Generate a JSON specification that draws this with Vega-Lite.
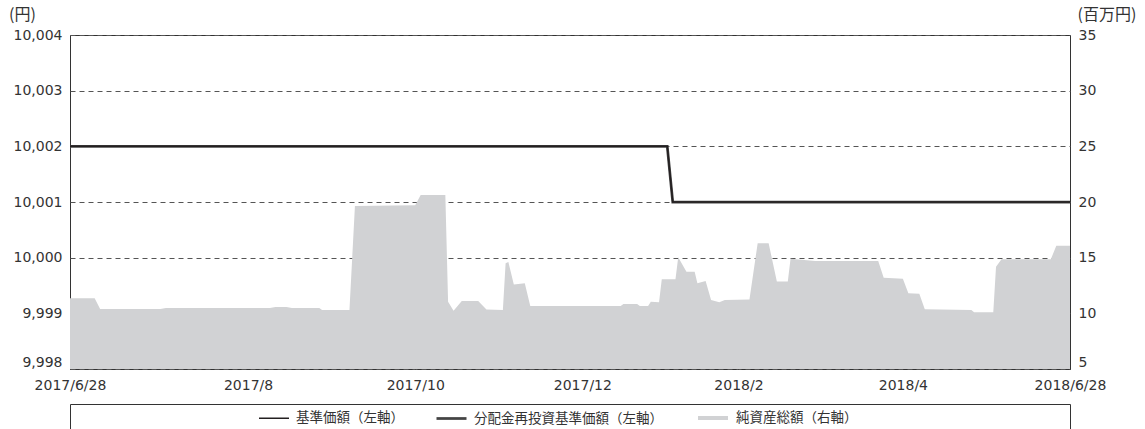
{
  "$schema": "https://vega.github.io/schema/vega-lite/v6.json",
  "padding": {"left": 8, "top": 6, "right": 5, "bottom": 0},
  "width": 1000,
  "height": 334,
  "config": {
    "view": {"stroke": "#333", "strokeWidth": 1},
    "font": "Noto Sans CJK JP",
    "axis": {"labelFont": "DejaVu Sans", "labelFontSize": 14, "labelColor": "#333", "titleFont": "Noto Sans CJK JP", "titleFontSize": 16, "titleFontWeight": "normal", "titleColor": "#333"},
    "legend": {"orient": "none", "direction": "horizontal", "legendX": 188, "legendY": 366, "symbolType": "stroke", "symbolSize": 900, "labelFont": "Noto Sans CJK JP", "labelFontSize": 13.5, "labelColor": "#333", "labelLimit": 400, "columnPadding": 27, "labelOffset": 6}
  },
  "datasets": {
    "nav": [
      {"date": "2017-06-28", "nav": 11.35},
      {"date": "2017-07-07", "nav": 11.35},
      {"date": "2017-07-09", "nav": 10.39},
      {"date": "2017-07-31", "nav": 10.39},
      {"date": "2017-08-02", "nav": 10.48},
      {"date": "2017-09-09", "nav": 10.48},
      {"date": "2017-09-11", "nav": 10.57},
      {"date": "2017-09-15", "nav": 10.57},
      {"date": "2017-09-17", "nav": 10.48},
      {"date": "2017-09-27", "nav": 10.48},
      {"date": "2017-09-28", "nav": 10.30},
      {"date": "2017-10-08", "nav": 10.30},
      {"date": "2017-10-10", "nav": 19.64},
      {"date": "2017-11-01", "nav": 19.70},
      {"date": "2017-11-03", "nav": 20.63},
      {"date": "2017-11-12", "nav": 20.63},
      {"date": "2017-11-13", "nav": 11.05},
      {"date": "2017-11-15", "nav": 10.24},
      {"date": "2017-11-18", "nav": 11.10},
      {"date": "2017-11-24", "nav": 11.10},
      {"date": "2017-11-27", "nav": 10.35},
      {"date": "2017-12-03", "nav": 10.30},
      {"date": "2017-12-04", "nav": 14.50},
      {"date": "2017-12-05", "nav": 14.60},
      {"date": "2017-12-07", "nav": 12.60},
      {"date": "2017-12-11", "nav": 12.70},
      {"date": "2017-12-13", "nav": 10.66},
      {"date": "2018-01-15", "nav": 10.66},
      {"date": "2018-01-16", "nav": 10.84},
      {"date": "2018-01-21", "nav": 10.84},
      {"date": "2018-01-22", "nav": 10.66},
      {"date": "2018-01-25", "nav": 10.66},
      {"date": "2018-01-26", "nav": 11.05},
      {"date": "2018-01-29", "nav": 11.00},
      {"date": "2018-01-30", "nav": 13.06},
      {"date": "2018-02-04", "nav": 13.06},
      {"date": "2018-02-05", "nav": 15.03},
      {"date": "2018-02-08", "nav": 13.74},
      {"date": "2018-02-11", "nav": 13.74},
      {"date": "2018-02-12", "nav": 12.70},
      {"date": "2018-02-15", "nav": 12.90},
      {"date": "2018-02-17", "nav": 11.20},
      {"date": "2018-02-20", "nav": 11.00},
      {"date": "2018-02-22", "nav": 11.20},
      {"date": "2018-03-03", "nav": 11.25},
      {"date": "2018-03-06", "nav": 16.30},
      {"date": "2018-03-10", "nav": 16.30},
      {"date": "2018-03-13", "nav": 12.85},
      {"date": "2018-03-17", "nav": 12.85},
      {"date": "2018-03-18", "nav": 14.90},
      {"date": "2018-03-25", "nav": 14.75},
      {"date": "2018-03-27", "nav": 14.70},
      {"date": "2018-04-19", "nav": 14.70},
      {"date": "2018-04-21", "nav": 13.20},
      {"date": "2018-04-28", "nav": 13.10},
      {"date": "2018-04-30", "nav": 11.80},
      {"date": "2018-05-04", "nav": 11.75},
      {"date": "2018-05-06", "nav": 10.36},
      {"date": "2018-05-23", "nav": 10.30},
      {"date": "2018-05-24", "nav": 10.10},
      {"date": "2018-05-31", "nav": 10.09},
      {"date": "2018-06-01", "nav": 14.19},
      {"date": "2018-06-03", "nav": 14.85},
      {"date": "2018-06-21", "nav": 14.85},
      {"date": "2018-06-23", "nav": 16.07},
      {"date": "2018-06-28", "nav": 16.07}
    ],
    "reinv": [
      {"date": "2017-06-28", "series": "分配金再投資基準価額（左軸）", "price": 10002},
      {"date": "2018-02-01", "series": "分配金再投資基準価額（左軸）", "price": 10002},
      {"date": "2018-02-03", "series": "分配金再投資基準価額（左軸）", "price": 10001},
      {"date": "2018-06-28", "series": "分配金再投資基準価額（左軸）", "price": 10001}
    ],
    "base": [
      {"date": "2017-06-28", "series": "基準価額（左軸）", "price": 10002},
      {"date": "2018-02-01", "series": "基準価額（左軸）", "price": 10002},
      {"date": "2018-02-03", "series": "基準価額（左軸）", "price": 10001},
      {"date": "2018-06-28", "series": "基準価額（左軸）", "price": 10001}
    ]
  },
  "layer": [
    {
      "data": {"name": "nav"},
      "mark": {"type": "area", "color": "#d1d2d4"},
      "encoding": {
        "x": {
          "field": "date", "type": "temporal",
          "scale": {"type": "utc", "domain": [{"year": 2017, "month": 6, "date": 28, "utc": true}, {"year": 2018, "month": 6, "date": 28, "utc": true}]},
          "axis": {
            "orient": "bottom",
            "title": null,
            "values": [
              {"year": 2017, "month": 6, "date": 28, "utc": true},
              {"year": 2017, "month": 9, "date": 1, "utc": true},
              {"year": 2017, "month": 11, "date": 1, "utc": true},
              {"year": 2018, "month": 1, "date": 1, "utc": true},
              {"year": 2018, "month": 2, "date": 27, "utc": true},
              {"year": 2018, "month": 4, "date": 28, "utc": true},
              {"year": 2018, "month": 6, "date": 28, "utc": true}
            ],
            "labelExpr": "utcFormat(datum.value, '%Y-%m-%d') == '2017-06-28' ? '2017/6/28' : utcFormat(datum.value, '%Y-%m-%d') == '2017-09-01' ? '2017/8' : utcFormat(datum.value, '%Y-%m-%d') == '2017-11-01' ? '2017/10' : utcFormat(datum.value, '%Y-%m-%d') == '2018-01-01' ? '2017/12' : utcFormat(datum.value, '%Y-%m-%d') == '2018-02-27' ? '2018/2' : utcFormat(datum.value, '%Y-%m-%d') == '2018-04-28' ? '2018/4' : '2018/6/28'",
            "tickSize": -7, "tickColor": "#333", "tickWidth": 1, "domain": false, "grid": false,
            "labelPadding": 16, "labelFlush": false, "labelOverlap": false, "labelAngle": 0
          }
        },
        "y": {
          "field": "nav", "type": "quantitative",
          "scale": {"domain": [5, 35], "zero": false, "nice": false},
          "axis": {
            "orient": "right", "values": [5, 10, 15, 20, 25, 30, 35], "grid": false, "ticks": false, "domain": false,
            "labelPadding": 8, "title": "(百万円)", "titleAngle": 0, "titleAlign": "left", "titleX": 7, "titleY": -21, "titleBaseline": "middle",
            "labelBaseline": {"condition": {"test": "datum.value <= 5", "value": "bottom"}, "value": "middle"}
          }
        },
        "y2": {"datum": 5}
      }
    },
    {
      "encoding": {
        "x": {
          "field": "date", "type": "temporal",
          "axis": {
            "orient": "bottom", "offset": 35, "title": null,
            "values": [
              {"year": 2017, "month": 6, "date": 28, "utc": true},
              {"year": 2018, "month": 6, "date": 28, "utc": true}
            ],
            "labels": false, "ticks": true, "tickSize": 30, "tickColor": "#333", "tickWidth": 1,
            "domain": true, "domainColor": "#333", "domainWidth": 1, "grid": false
          }
        },
        "y": {
          "field": "price", "type": "quantitative",
          "scale": {"domain": [9998, 10004], "zero": false, "nice": false},
          "axis": {
            "orient": "left", "values": [9998, 9999, 10000, 10001, 10002, 10003, 10004], "format": ",d",
            "grid": true, "gridDash": [5, 4], "gridColor": "#555", "gridWidth": 1, "ticks": false, "domain": false,
            "labelPadding": 8, "title": "(円)", "titleAngle": 0, "titleAlign": "center", "titleX": -48, "titleY": -21, "titleBaseline": "middle",
            "labelBaseline": {"condition": {"test": "datum.value <= 9998", "value": "bottom"}, "value": "middle"}
          }
        },
        "color": {
          "field": "series", "type": "nominal",
          "scale": {"domain": ["基準価額（左軸）", "分配金再投資基準価額（左軸）", "純資産総額（右軸）"], "range": ["#231f20", "#444444", "#d1d2d4"]},
          "legend": {"title": null}
        },
        "strokeWidth": {
          "field": "series", "type": "nominal",
          "scale": {"domain": ["基準価額（左軸）", "分配金再投資基準価額（左軸）", "純資産総額（右軸）"], "range": [1.5, 4, 4]},
          "legend": {"title": null}
        }
      },
      "layer": [
        {"data": {"name": "reinv"}, "mark": {"type": "line"}},
        {"data": {"name": "base"}, "mark": {"type": "line"}}
      ]
    }
  ],
  "resolve": {"scale": {"y": "independent"}, "axis": {"x": "independent"}}
}
